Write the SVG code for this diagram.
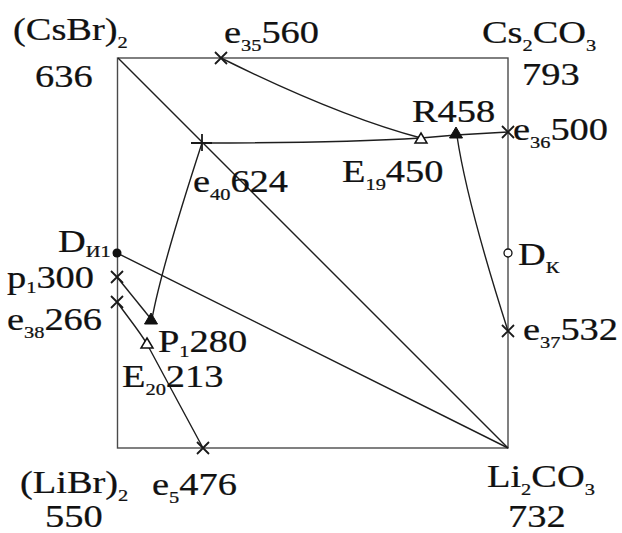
<svg xmlns="http://www.w3.org/2000/svg" xmlns:xlink="http://www.w3.org/1999/xlink" width="622" height="533" viewBox="0 0 622 533">
<style>
.t{font-family:"Liberation Serif","Times New Roman",serif;font-size:32px;fill:#111;stroke:#111;stroke-width:0.25}
.s{font-size:17px}
.ln{fill:none;stroke:#1e1e1e;stroke-width:1.4}
.frame{fill:none;stroke:#4a4a4a;stroke-width:1.4}
.mk{fill:none;stroke:#1a1a1a;stroke-width:1.8}
.ft{fill:#111;stroke:#111;stroke-width:1}
.ot{fill:#fff;stroke:#111;stroke-width:1.5}
</style>
<defs>
<path id="x" class="mk" d="M-6,-6L6,6M-6,6L6,-6"/>
<path id="tf" class="ft" d="M0,-6L6.5,5H-6.5Z"/>
<path id="to" class="ot" d="M0,-5L6,5H-6Z"/>
</defs>
<rect width="622" height="533" fill="#fff"/>
<rect class="frame" x="117.5" y="58" width="390.5" height="390"/>
<g id="connectors">
<path class="ln" d="M118,58L508,448"/>
<path class="ln" d="M117,253L508,448"/>
<path class="ln" d="M221,58Q338,116 421,138"/>
<path class="ln" d="M202,143Q340,143 421,138L456,135L508,132"/>
<path class="ln" d="M202,143Q161,269 152,319"/>
<path class="ln" d="M457,136Q467,203 508,331"/>
<path class="ln" d="M117,277L151,319"/>
<path class="ln" d="M117,302C130,320 140,332 147,344C160,368 185,415 203,448"/>
</g>
<g id="CsBr2">
<text class="t" transform="translate(13,40) scale(1.2,1)">(CsBr)<tspan class="s" dy="8">2</tspan></text>
<text class="t" transform="translate(35,87) scale(1.2,1)">636</text>
</g>
<g id="Cs2CO3">
<text class="t" transform="translate(482,43) scale(1.2,1)">Cs<tspan class="s" dy="8">2</tspan><tspan dy="-8">CO</tspan><tspan class="s" dy="8">3</tspan></text>
<text class="t" transform="translate(522,85) scale(1.2,1)">793</text>
</g>
<g id="LiBr2">
<text class="t" transform="translate(20,493) scale(1.2,1)">(LiBr)<tspan class="s" dy="8">2</tspan></text>
<text class="t" transform="translate(45,527) scale(1.2,1)">550</text>
</g>
<g id="Li2CO3">
<text class="t" transform="translate(487,487) scale(1.2,1)">Li<tspan class="s" dy="8">2</tspan><tspan dy="-8">CO</tspan><tspan class="s" dy="8">3</tspan></text>
<text class="t" transform="translate(508,527) scale(1.2,1)">732</text>
</g>
<g id="e35">
<use xlink:href="#x" x="221" y="58"/>
<text class="t" transform="translate(224,43) scale(1.2,1)">e<tspan class="s" dy="8">35</tspan><tspan dy="-8">560</tspan></text>
</g>
<g id="e40">
<path class="mk" d="M191,143H212M202,134V151" stroke-width="1.6"/>
<text class="t" transform="translate(193,192) scale(1.2,1)">e<tspan class="s" dy="8">40</tspan><tspan dy="-8">624</tspan></text>
</g>
<g id="E19">
<use xlink:href="#to" x="421" y="138"/>
<text class="t" transform="translate(342,182) scale(1.2,1)">E<tspan class="s" dy="8">19</tspan><tspan dy="-8">450</tspan></text>
</g>
<g id="R">
<use xlink:href="#tf" x="456" y="133"/>
<text class="t" transform="translate(412,122) scale(1.2,1)">R458</text>
</g>
<g id="e36">
<use xlink:href="#x" x="508" y="132"/>
<text class="t" transform="translate(513,140) scale(1.2,1)">e<tspan class="s" dy="8">36</tspan><tspan dy="-8">500</tspan></text>
</g>
<g id="DK">
<circle cx="508" cy="253" r="4" fill="#fff" stroke="#111" stroke-width="1.3"/>
<text class="t" transform="translate(518,265) scale(1.2,1)">D<tspan class="s" dy="8">К</tspan></text>
</g>
<g id="e37">
<use xlink:href="#x" x="508" y="331"/>
<text class="t" transform="translate(523,340) scale(1.2,1)">e<tspan class="s" dy="8">37</tspan><tspan dy="-8">532</tspan></text>
</g>
<g id="DI1">
<circle cx="117" cy="253" r="4.5" fill="#111"/>
<text class="t" transform="translate(58,252) scale(1.2,1)">D<tspan class="s" dy="5">И1</tspan></text>
</g>
<g id="p1">
<use xlink:href="#x" x="117" y="277"/>
<text class="t" transform="translate(7,288) scale(1.2,1)">p<tspan class="s" dy="5">1</tspan><tspan dy="-5">300</tspan></text>
</g>
<g id="e38">
<use xlink:href="#x" x="117" y="302"/>
<text class="t" transform="translate(7,330) scale(1.2,1)">e<tspan class="s" dy="8">38</tspan><tspan dy="-8">266</tspan></text>
</g>
<g id="P1">
<use xlink:href="#tf" x="151" y="319"/>
<text class="t" transform="translate(158,352) scale(1.2,1)">P<tspan class="s" dy="5">1</tspan><tspan dy="-5">280</tspan></text>
</g>
<g id="E20">
<use xlink:href="#to" x="147" y="343"/>
<text class="t" transform="translate(122,387) scale(1.2,1)">E<tspan class="s" dy="8">20</tspan><tspan dy="-8">213</tspan></text>
</g>
<g id="e5">
<use xlink:href="#x" x="203" y="448"/>
<text class="t" transform="translate(152,495) scale(1.2,1)">e<tspan class="s" dy="8">5</tspan><tspan dy="-8">476</tspan></text>
</g>
</svg>
